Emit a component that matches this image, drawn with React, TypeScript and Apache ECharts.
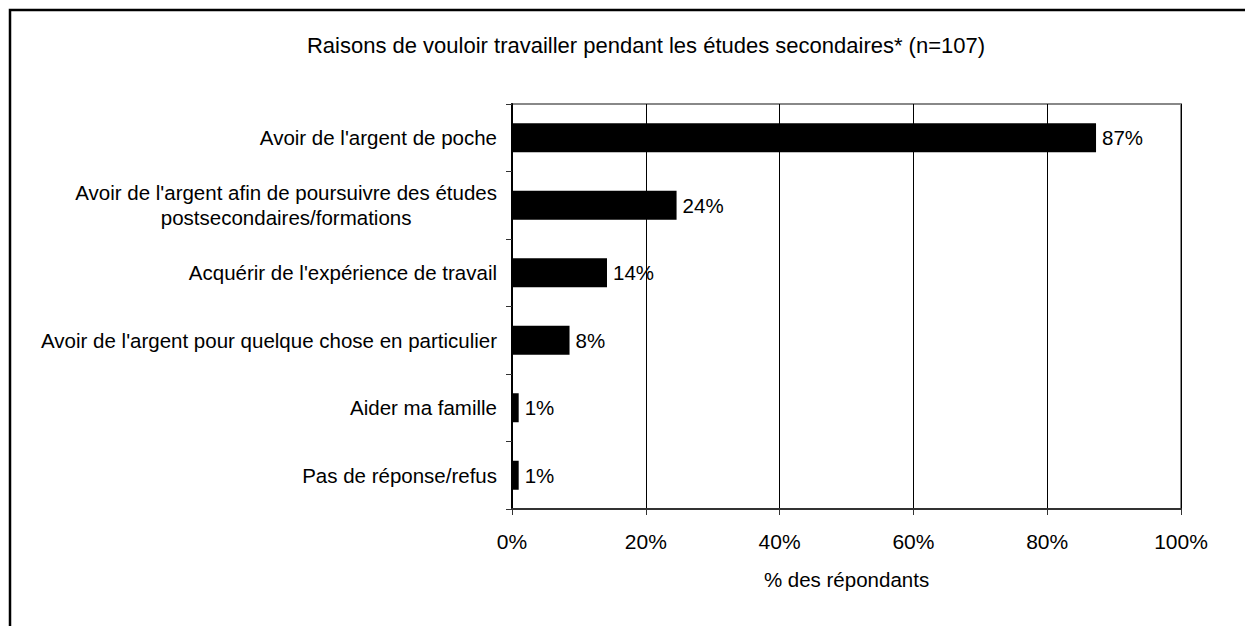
import React, { useEffect, useRef } from "react";
import * as echarts from "echarts";

const categories = [
  "Avoir de l'argent de poche",
  "Avoir de l'argent afin de poursuivre des études\npostsecondaires/formations",
  "Acquérir de l'expérience de travail",
  "Avoir de l'argent pour quelque chose en particulier",
  "Aider ma famille",
  "Pas de réponse/refus",
];
const values = [87.3, 24.6, 14.2, 8.6, 1.0, 1.0];
const valueLabels = ["87%", "24%", "14%", "8%", "1%", "1%"];
const titleText = "Raisons de vouloir travailler pendant les études secondaires* (n=107)";
const xAxisName = "% des répondants";

const FONT = "'Liberation Sans', Arial, sans-serif";
const FS = 20.5;

export default function App() {
  const ref = useRef<HTMLDivElement>(null);
  useEffect(() => {
    document.body.style.margin = "0";
    const chart = echarts.init(ref.current!, null, { renderer: "svg" });
    chart.setOption({
      animation: false,
      backgroundColor: "#ffffff",
      textStyle: { fontFamily: FONT },
      graphic: [
        {
          type: "rect",
          shape: { x: 10, y: 10, width: 1400, height: 800 },
          style: { fill: "none", stroke: "#000", lineWidth: 2.5 },
          silent: true,
        },
        {
          type: "text",
          x: 646,
          y: 45,
          style: {
            text: titleText,
            fontFamily: FONT,
            fontSize: 22,
            fill: "#000",
            textAlign: "center",
            textVerticalAlign: "middle",
          },
        },
      ],
      grid: {
        left: 512,
        right: 64,
        top: 104,
        bottom: 117,
        show: true,
        borderColor: "#888",
        borderWidth: 2,
        backgroundColor: "transparent",
      },
      xAxis: {
        type: "value",
        min: 0,
        max: 100,
        interval: 20,
        name: xAxisName,
        nameLocation: "middle",
        nameGap: 60,
        nameTextStyle: { fontFamily: FONT, fontSize: FS, color: "#000" },
        axisLine: { show: true, lineStyle: { color: "#333", width: 2 } },
        axisTick: { show: true, length: 6, lineStyle: { color: "#333", width: 1 } },
        axisLabel: {
          formatter: "{value}%",
          margin: 22,
          fontFamily: FONT,
          fontSize: 21,
          color: "#000",
        },
        splitLine: { show: true, lineStyle: { color: "#000", width: 1 } },
      },
      yAxis: {
        type: "category",
        inverse: true,
        data: categories,
        axisLine: { show: true, lineStyle: { color: "#000", width: 2 } },
        axisTick: { show: true, length: 6, lineStyle: { color: "#333", width: 1 } },
        axisLabel: {
          margin: 15,
          color: "#000",
          fontFamily: FONT,
          fontSize: FS,
          formatter: (v: string) =>
            v
              .split("\n")
              .map((s) => "{c|" + s + "}")
              .join("\n"),
          rich: {
            c: {
              align: "center",
              fontFamily: FONT,
              fontSize: FS,
              color: "#000",
              lineHeight: 25,
            },
          },
        },
        splitLine: { show: false },
      },
      series: [
        {
          type: "bar",
          data: values,
          barWidth: 29,
          itemStyle: { color: "#000" },
          label: {
            show: true,
            position: "right",
            distance: 6,
            fontFamily: FONT,
            fontSize: FS,
            color: "#000",
            formatter: (p: any) => valueLabels[p.dataIndex],
          },
        },
      ],
    });
    return () => chart.dispose();
  }, []);
  return (
    <div
      ref={ref}
      style={{ position: "absolute", left: 0, top: 0, width: 1245, height: 626 }}
    />
  );
}
